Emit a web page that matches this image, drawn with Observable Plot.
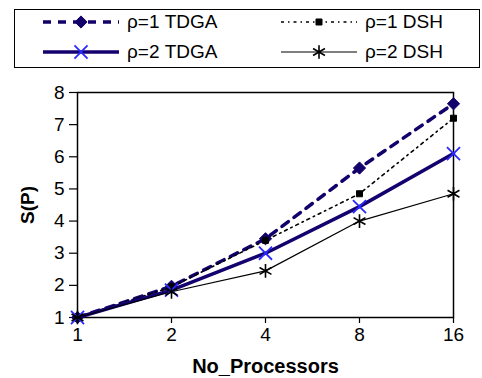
<!DOCTYPE html>
<html>
<head>
<meta charset="utf-8">
<script src="https://cdn.jsdelivr.net/npm/d3@7"></script>
<script src="https://cdn.jsdelivr.net/npm/@observablehq/plot@0.6"></script>
<style>
  html, body { margin: 0; padding: 0; background: #fff; }
  body { width: 482px; height: 378px; overflow: hidden; font-family: Arial, "Liberation Sans", sans-serif; position: relative; }
  #legend { position: relative; width: 482px; height: 75px; }
  #legend .box { position: absolute; left: 14px; top: 9px; width: 464px; height: 57px; border: 1.5px solid #000; }
  #legend .item { position: absolute; height: 20px; display: flex; align-items: center; font-size: 19px; color: #000; }
  #legend svg { display: block; margin-right: 8px; }
  #chart svg { display: block; }
</style>
</head>
<body>
<div id="legend"></div>
<div id="chart"></div>
<script>
const processors = ["1", "2", "4", "8", "16"];
const rho1TDGA = [1, 1.97, 3.45, 5.65, 7.65];
const rho1DSH  = [1, 1.95, 3.4, 4.85, 7.2];
const rho2TDGA = [1, 1.85, 3.0, 4.45, 6.1];
const rho2DSH  = [1, 1.8, 2.45, 4.0, 4.85];
const yTicks = [1, 2, 3, 4, 5, 6, 7, 8];

const seriesDefs = [
  {name: "ρ=1 TDGA", values: rho1TDGA, stroke: "#13006a", width: 3.5, dash: "8,7", symbol: "diamond2", mfill: "#13006a", mstroke: "#13006a", r: 5.5, sw: 1},
  {name: "ρ=1 DSH",  values: rho1DSH,  stroke: "#000", width: 1.6, dash: "3,4,1.5,4", symbol: "square", mfill: "#000", mstroke: "#000", r: 3.4, sw: 1},
  {name: "ρ=2 TDGA", values: rho2TDGA, stroke: "#14006e", width: 3.5, dash: null, symbol: "times", mfill: "none", mstroke: "#2a2aff", r: 6, sw: 1.8},
  {name: "ρ=2 DSH",  values: rho2DSH,  stroke: "#000", width: 1.2, dash: null, symbol: "asterisk", mfill: "none", mstroke: "#000", r: 6.5, sw: 1.6}
];

const rows = seriesDefs.flatMap(s => processors.map((p, i) => ({p, v: s.values[i], s: s.name})));

const marks = [
  Plot.frame({stroke: "#000", strokeWidth: 1.5}),
  Plot.axisY({ticks: yTicks, tickFormat: d3.format("d"), tickSize: 8, tickPadding: 5, fontSize: 19, label: null, stroke: "#000", strokeWidth: 1.2}),
  Plot.axisX({tickSize: 6, tickPadding: 4, fontSize: 19, label: null, stroke: "#000", strokeWidth: 1.2}),
  Plot.text(["S(P)"], {frameAnchor: "left", dx: -50, rotate: -90, fontSize: 19, fontWeight: "bold", textAnchor: "middle"}),
  Plot.text(["No_Processors"], {frameAnchor: "bottom", dy: 55, fontSize: 20, fontWeight: "bold", textAnchor: "middle"})
];
for (const s of seriesDefs) {
  const data = rows.filter(d => d.s === s.name);
  marks.push(Plot.line(data, {x: "p", y: "v", stroke: s.stroke, strokeWidth: s.width, strokeDasharray: s.dash ?? undefined}));
}
for (const s of seriesDefs) {
  const data = rows.filter(d => d.s === s.name);
  marks.push(Plot.dot(data, {x: "p", y: "v", symbol: s.symbol, fill: s.mfill, stroke: s.mstroke, strokeWidth: s.sw, r: s.r}));
}

const chart = Plot.plot({
  width: 482,
  height: 303,
  marginLeft: 77,
  marginRight: 29,
  marginTop: 17,
  marginBottom: 61,
  style: {fontFamily: "Arial, 'Liberation Sans', sans-serif", color: "#000", background: "#fff"},
  x: {type: "point", domain: processors, padding: 0},
  y: {domain: [1, 8]},
  marks
});
document.getElementById("chart").appendChild(chart);

// Legend
const legend = document.getElementById("legend");
const box = document.createElement("div");
box.className = "box";
legend.appendChild(box);
const positions = [
  {x: 43, y: 12},
  {x: 281, y: 12},
  {x: 43, y: 42},
  {x: 281, y: 42}
];
const symbolMap = {diamond2: d3.symbolDiamond2, square: d3.symbolSquare, times: d3.symbolTimes, asterisk: d3.symbolAsterisk};
seriesDefs.forEach((s, i) => {
  const item = document.createElement("div");
  item.className = "item";
  item.style.left = positions[i].x + "px";
  item.style.top = positions[i].y + "px";
  const w = 76;
  const svg = d3.create("svg").attr("width", w).attr("height", 20);
  svg.append("line").attr("x1", 0).attr("x2", w).attr("y1", 10).attr("y2", 10)
    .attr("stroke", s.stroke).attr("stroke-width", s.width).attr("stroke-dasharray", s.dash);
  const size = Math.PI * s.r * s.r;
  svg.append("path").attr("transform", `translate(${w/2},10)`)
    .attr("d", d3.symbol(symbolMap[s.symbol], size)())
    .attr("fill", s.mfill).attr("stroke", s.mstroke)
    .attr("stroke-width", s.sw);
  item.appendChild(svg.node());
  const t = document.createElement("span");
  t.textContent = s.name;
  item.appendChild(t);
  legend.appendChild(item);
});
</script>
</body>
</html>
